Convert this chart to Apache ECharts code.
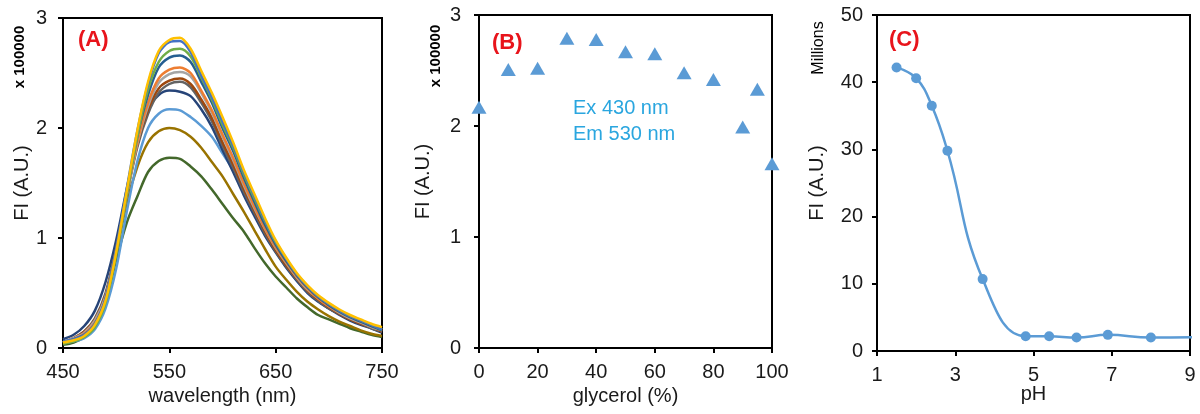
<!DOCTYPE html>
<html><head><meta charset="utf-8">
<script src="https://cdn.jsdelivr.net/npm/echarts@6/dist/echarts.min.js"></script>
<style>html,body{margin:0;padding:0;background:#fff}#c{width:1200px;height:414px}</style>
</head><body><div id="c"></div>
<script>
// ---------- Panel A: emission spectra ----------
const wavelengths = [450,460,470,480,490,500,510,520,530,540,550,560,570,580,590,600,610,620,630,640,650,660,670,680,690,700,710,720,730,740,750];
const specYellow   = [0.05,0.07,0.11,0.21,0.43,0.87,1.43,1.98,2.42,2.70,2.80,2.82,2.72,2.52,2.32,2.10,1.87,1.62,1.40,1.18,0.98,0.82,0.68,0.57,0.48,0.41,0.35,0.30,0.26,0.22,0.19];
const specBlue     = [0.06,0.08,0.12,0.22,0.45,0.90,1.45,1.98,2.40,2.68,2.78,2.79,2.69,2.48,2.28,2.06,1.84,1.60,1.38,1.16,0.97,0.81,0.67,0.56,0.47,0.40,0.34,0.29,0.25,0.21,0.17];
const specGreen    = [0.04,0.06,0.10,0.19,0.41,0.85,1.40,1.93,2.35,2.60,2.70,2.72,2.65,2.46,2.26,2.03,1.82,1.58,1.36,1.15,0.96,0.81,0.67,0.56,0.47,0.40,0.34,0.29,0.25,0.21,0.17];
const specSteel    = [0.05,0.08,0.12,0.22,0.44,0.88,1.42,1.93,2.30,2.55,2.64,2.66,2.60,2.42,2.23,2.00,1.79,1.55,1.33,1.12,0.94,0.79,0.66,0.55,0.46,0.39,0.33,0.28,0.24,0.20,0.16];
const specOrange   = [0.05,0.08,0.13,0.23,0.45,0.88,1.40,1.88,2.23,2.45,2.53,2.55,2.50,2.34,2.16,1.94,1.73,1.50,1.29,1.09,0.92,0.78,0.65,0.54,0.45,0.38,0.33,0.28,0.24,0.20,0.17];
const specGray     = [0.05,0.09,0.14,0.25,0.47,0.88,1.39,1.86,2.20,2.41,2.49,2.51,2.47,2.32,2.14,1.92,1.71,1.48,1.27,1.08,0.91,0.77,0.64,0.53,0.45,0.38,0.32,0.27,0.23,0.19,0.16];
const specBrown    = [0.05,0.09,0.15,0.26,0.48,0.90,1.40,1.85,2.17,2.36,2.43,2.45,2.40,2.26,2.09,1.87,1.67,1.45,1.25,1.06,0.89,0.75,0.63,0.52,0.44,0.37,0.31,0.26,0.22,0.19,0.15];
const specDarkGray = [0.05,0.09,0.15,0.27,0.50,0.90,1.39,1.83,2.13,2.32,2.40,2.42,2.37,2.23,2.06,1.84,1.64,1.42,1.23,1.04,0.88,0.74,0.62,0.51,0.43,0.36,0.31,0.26,0.22,0.18,0.15];
const specNavy     = [0.08,0.12,0.20,0.34,0.60,0.98,1.45,1.87,2.17,2.30,2.34,2.33,2.29,2.17,2.01,1.80,1.60,1.39,1.20,1.02,0.87,0.73,0.61,0.50,0.42,0.36,0.30,0.25,0.21,0.18,0.14];
const specSky      = [0.04,0.06,0.09,0.17,0.36,0.72,1.24,1.70,2.00,2.13,2.17,2.16,2.10,2.02,1.92,1.77,1.62,1.44,1.24,1.05,0.89,0.74,0.61,0.51,0.43,0.36,0.31,0.26,0.22,0.18,0.15];
const specOlive    = [0.04,0.07,0.12,0.22,0.44,0.85,1.32,1.65,1.87,1.97,2.00,1.98,1.92,1.82,1.69,1.56,1.40,1.24,1.07,0.90,0.74,0.62,0.51,0.42,0.35,0.29,0.24,0.20,0.16,0.13,0.11];
const specForest   = [0.03,0.05,0.10,0.20,0.42,0.80,1.14,1.38,1.60,1.70,1.73,1.72,1.65,1.56,1.44,1.31,1.18,1.06,0.91,0.77,0.65,0.55,0.45,0.37,0.30,0.26,0.22,0.18,0.15,0.12,0.10];
const spectraA = [
  {name:'s1', color:'#43682B', values:specForest},
  {name:'s2', color:'#997300', values:specOlive},
  {name:'s3', color:'#5B9BD5', values:specSky},
  {name:'s4', color:'#264478', values:specNavy},
  {name:'s5', color:'#636363', values:specDarkGray},
  {name:'s6', color:'#9E480E', values:specBrown},
  {name:'s7', color:'#A5A5A5', values:specGray},
  {name:'s8', color:'#ED7D31', values:specOrange},
  {name:'s9', color:'#255E91', values:specSteel},
  {name:'s10', color:'#70AD47', values:specGreen},
  {name:'s11', color:'#4472C4', values:specBlue},
  {name:'s12', color:'#FFC000', values:specYellow}
];
const ticksAX = {min:450, max:750, interval:100};
const ticksAY = {min:0, max:3, interval:1};

// ---------- Panel B: glycerol ----------
const glycerol = [0,10,20,30,40,50,60,70,80,90,95,100];
const fiGlycerol = [2.17,2.51,2.52,2.79,2.78,2.67,2.65,2.48,2.42,1.99,2.33,1.66];
const ticksBX = {min:0, max:100, interval:20};
const ticksBY = {min:0, max:3, interval:1};

// ---------- Panel C: pH ----------
const pH = [1.5,2.0,2.4,2.8,3.7,4.8,5.4,6.1,6.9,8.0,10.0];
const fiPH = [42.2,40.6,36.5,29.8,10.7,2.2,2.2,2.0,2.4,2.0,2.2];
const ticksCX = {min:1, max:9, interval:2};
const ticksCY = {min:0, max:50, interval:10};

const FONT = "'Liberation Sans', Arial, sans-serif";
const TXT = '#1a1a1a';

function xAxis(idx, t, name, gap, margin){
  return {gridIndex:idx, type:'value', min:t.min, max:t.max, interval:t.interval,
    name:name, nameLocation:'middle', nameGap:gap, nameMoveOverlap:false,
    nameTextStyle:{fontSize:20, color:TXT, fontFamily:FONT},
    axisLine:{show:true, onZero:false, lineStyle:{color:'#000', width:2}},
    axisTick:{show:true, inside:false, length:5, lineStyle:{color:'#000', width:2}},
    axisLabel:{fontSize:20, color:TXT, margin:margin, fontFamily:FONT},
    splitLine:{show:false}};
}
function yAxis(idx, t, name, gap, margin){
  return {gridIndex:idx, type:'value', min:t.min, max:t.max, interval:t.interval,
    name:name, nameLocation:'middle', nameGap:gap, nameRotate:90, nameMoveOverlap:false,
    nameTextStyle:{fontSize:20, color:TXT, fontFamily:FONT},
    axisLine:{show:true, onZero:false, lineStyle:{color:'#000', width:2}},
    axisTick:{show:true, inside:false, length:5, lineStyle:{color:'#000', width:2}},
    axisLabel:{fontSize:20, color:TXT, margin:margin, fontFamily:FONT},
    splitLine:{show:false}};
}
const gridBase = {show:true, borderColor:'#000', borderWidth:2, backgroundColor:'transparent', containLabel:false, outerBoundsMode:'none'};

const series = [];
spectraA.forEach(s => {
  series.push({type:'line', xAxisIndex:0, yAxisIndex:0, name:s.name, showSymbol:false, smooth:0.3,
    lineStyle:{color:s.color, width:2.5}, itemStyle:{color:s.color},
    data: wavelengths.map((w,i)=>[w, s.values[i]]), animation:false});
});
series.push({type:'scatter', xAxisIndex:1, yAxisIndex:1, symbol:'triangle', symbolSize:[15,13],
  itemStyle:{color:'#5B9BD5', opacity:1}, data: glycerol.map((g,i)=>[g, fiGlycerol[i]]), animation:false});
series.push({type:'line', xAxisIndex:2, yAxisIndex:2, symbol:'circle', symbolSize:10, smooth:0.45, clip:true,
  lineStyle:{color:'#5B9BD5', width:2.5}, itemStyle:{color:'#5B9BD5'},
  data: pH.map((p,i)=>[p, fiPH[i]]), animation:false});

function txt(x, y, text, opts){
  return Object.assign({type:'text', x:x, y:y, silent:true,
    style:Object.assign({text:text, fontFamily:FONT, fill:TXT, fontSize:20, textAlign:'left', textVerticalAlign:'middle'}, opts.style||{})},
    opts.rot ? {rotation:opts.rot} : {});
}

const option = {
  backgroundColor:'#fff',
  animation:false,
  grid:[
    Object.assign({left:63, top:18, width:319, height:330}, gridBase),
    Object.assign({left:479, top:15, width:293, height:333}, gridBase),
    Object.assign({left:877, top:15, width:313, height:336}, gridBase)
  ],
  xAxis:[xAxis(0, ticksAX, 'wavelength (nm)', 38, 14), xAxis(1, ticksBX, 'glycerol (%)', 38, 14), xAxis(2, ticksCX, 'pH', 33, 14)],
  yAxis:[yAxis(0, ticksAY, 'FI (A.U.)', 31, 16), yAxis(1, ticksBY, 'FI (A.U.)', 46, 18), yAxis(2, ticksCY, 'FI (A.U.)', 50, 14)],
  series:series,
  graphic:[
    txt(20, 57, 'x 100000', {rot:Math.PI/2, style:{fontSize:15, fontWeight:'bold', textAlign:'center', fill:'#000'}}),
    txt(436, 56, 'x 100000', {rot:Math.PI/2, style:{fontSize:15, fontWeight:'bold', textAlign:'center', fill:'#000'}}),
    txt(819, 48, 'Millions', {rot:Math.PI/2, style:{fontSize:16, textAlign:'center', fill:'#000'}}),
    txt(78, 40, '(A)', {style:{fontSize:22, fontWeight:'bold', fill:'#E8141B'}}),
    txt(492, 43, '(B)', {style:{fontSize:22, fontWeight:'bold', fill:'#E8141B'}}),
    txt(889, 40, '(C)', {style:{fontSize:22, fontWeight:'bold', fill:'#E8141B'}}),
    txt(573, 108, 'Ex 430 nm', {style:{fontSize:20, fill:'#2AA6DF'}}),
    txt(573, 134, 'Em 530 nm', {style:{fontSize:20, fill:'#2AA6DF'}})
  ]
};
const chart = echarts.init(document.getElementById('c'), null, {renderer:'canvas'});
chart.setOption(option);
</script>
</body></html>
